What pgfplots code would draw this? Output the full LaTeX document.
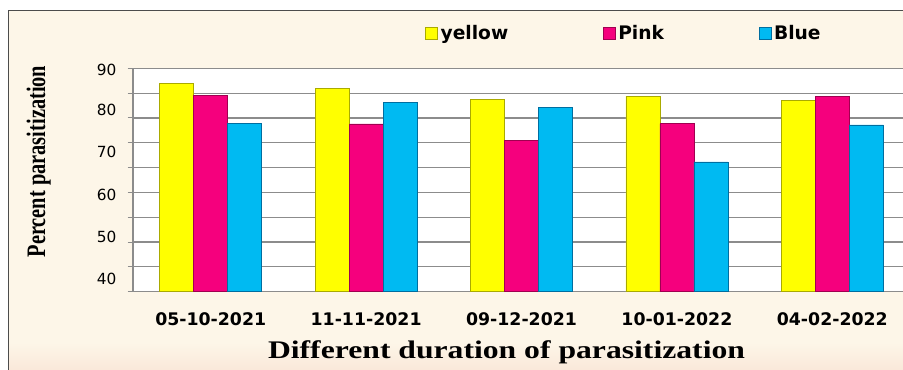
\documentclass[border=0pt]{standalone}
\usepackage{pgfplots}
\pgfplotsset{compat=1.18}
\usepackage{fontspec}
\setmainfont{Liberation Serif}
\newfontfamily\tickfont{DejaVu Sans}
\definecolor{cream}{RGB}{253,246,232}
\definecolor{peach}{RGB}{250,233,218}
\definecolor{cyel}{RGB}{255,255,0}
\definecolor{cyeld}{RGB}{170,170,0}
\definecolor{cpink}{RGB}{245,0,125}
\definecolor{cpinkd}{RGB}{160,0,80}
\definecolor{cblue}{RGB}{0,186,242}
\definecolor{cblued}{RGB}{0,110,160}
\definecolor{gridc}{RGB}{140,140,140}
\begin{document}
\begin{tikzpicture}
\useasboundingbox (0,0) rectangle (677.25pt,276.75pt);
\clip (0,0) rectangle (677.25pt,276.75pt);
\fill[white] (0,0) rectangle (677.25pt,276.75pt);
\fill[cream] (6.2pt,-10pt) rectangle (700pt,268.7pt);
\shade[bottom color=peach, top color=cream] (6.6pt,0pt) rectangle (700pt,20pt);
\draw[draw=black!70, line width=0.8pt] (6.2pt,-10pt) rectangle (700pt,268.7pt);
\begin{axis}[
  at={(99.75pt,57.98pt)}, anchor=south west,
  scale only axis, width=582.75pt, height=167.55pt,
  xmin=-0.5, xmax=4.5, ymin=0, ymax=90,
  axis background/.style={fill=white},
  ybar=0pt, bar width=25.5pt,
  xtick={0,1,2,3,4},
  xticklabels={05-10-2021,11-11-2021,09-12-2021,10-01-2022,04-02-2022},
  x tick label style={font=\tickfont\bfseries\fontsize{13}{15}\selectfont, yshift=-8pt},
  major x tick style={draw=none},
  extra x ticks={-0.5,0.5,1.5,2.5,3.5},
  extra x tick labels={},
  extra x tick style={major tick length=4pt, tick style={draw=gridc, line width=0.8pt}, tick align=outside},
  ytick={0,10,...,90},
  yticklabels={},
  ymajorgrids,
  grid style={draw=gridc, line width=0.9pt},
  tick align=outside, major tick length=4pt,
  tick style={draw=gridc, line width=0.8pt},
  extra y ticks={5.1,22.0,39.0,56.3,73.2,89.3},
  extra y tick labels={40,50,60,70,80,90},
  extra y tick style={major tick length=0pt, grid=none, tick style={draw=none},
     y tick label style={font=\tickfont\fontsize{11.5}{13}\selectfont, xshift=-9pt}},
  axis x line*=bottom, axis y line*=left,
  axis line style={draw=gridc, line width=0.9pt},
  legend columns=3,
  legend style={at={(0.3758,1.158)}, anchor=west, draw=none, fill=none,
    font=\tickfont\bfseries\fontsize{14}{16}\selectfont, inner sep=0pt,
    /tikz/every even column/.append style={column sep=69pt}},
  legend image code/.code={\draw[#1] (0pt,-4.5pt) rectangle (9pt,4.5pt);},
  clip=false,
]
\addplot[fill=cyel, draw=cyeld, line width=0.5pt] coordinates {(0,84.0) (1,81.9) (2,77.5) (3,78.8) (4,77.2)};
\addplot[fill=cpink, draw=cpinkd, line width=0.5pt] coordinates {(0,79.2) (1,67.6) (2,60.8) (3,67.7) (4,78.6)};
\addplot[fill=cblue, draw=cblued, line width=0.5pt] coordinates {(0,67.8) (1,76.4) (2,74.4) (3,52.3) (4,67.2)};
\legend{yellow,Pink,Blue}
\end{axis}
\node[rotate=90, anchor=base, inner sep=0pt, font=\bfseries\fontsize{20}{22}\selectfont] at (33.75pt,155.6pt) {\scalebox{0.765}[1]{Percent parasitization}};
\node[anchor=base, inner sep=0pt, font=\bfseries\fontsize{19}{21}\selectfont] at (379.9pt,8pt) {\scalebox{1.25}[1]{Different duration of parasitization}};
\end{tikzpicture}
\end{document}
